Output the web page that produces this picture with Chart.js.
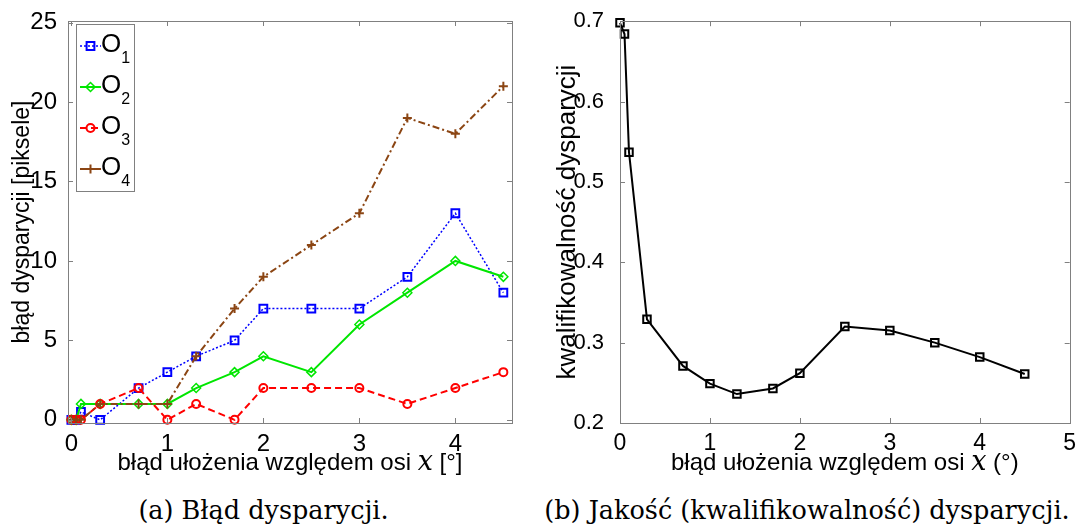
<!DOCTYPE html>
<html>
<head>
<meta charset="utf-8">
<script src="https://cdn.jsdelivr.net/npm/chart.js@4.4.1/dist/chart.umd.min.js"></script>
<style>
  body { margin: 0; background: #fff; width: 1077px; height: 524px; position: relative; overflow: hidden; }
  canvas { position: absolute; top: 0; }
  #chartA { left: 0; }
  #chartB { left: 540px; }
  .cap { position: absolute; top: 495px; font: 25.5px/30px "DejaVu Serif", serif; color: #000; text-align: center; white-space: nowrap; }
</style>
</head>
<body>
<canvas id="chartA" width="540" height="480"></canvas>
<canvas id="chartB" width="537" height="480"></canvas>
<div class="cap" style="left:0;width:527px">(a) Błąd dysparycji.</div>
<div class="cap" style="left:540px;width:534px">(b) Jakość (kwalifikowalność) dysparycji.</div>
<script>
// x positions (misalignment in degrees), shared by both plots
const xs = [0, 0.05, 0.1, 0.3, 0.7, 1, 1.3, 1.7, 2, 2.5, 3, 3.5, 4, 4.5];

// (a) disparity error [pixels]
const o1 = [0, 0, 0.5, 0, 2, 3, 4, 5, 7, 7, 7, 9, 13, 8];
const o2 = [0, 0, 1, 1, 1, 1, 2, 3, 4, 3, 6, 8, 10, 9];
const o3 = [0, 0, 0, 1, 2, 0, 1, 0, 2, 2, 2, 1, 2, 3];
const o4 = [0, 0, 0, 1, 1, 1, 4, 7, 9, 11, 13, 19, 18, 21];
const seriesNames = ['O1', 'O2', 'O3', 'O4'];

// (b) disparity quality
const quality = [0.698, 0.684, 0.537, 0.329, 0.271, 0.249, 0.236, 0.243, 0.262, 0.320, 0.315, 0.300, 0.282, 0.261];

const ticksAx = [0, 1, 2, 3, 4];
const ticksAy = [0, 5, 10, 15, 20, 25];
const ticksBx = [0, 1, 2, 3, 4, 5];
const ticksBy = [0.2, 0.3, 0.4, 0.5, 0.6, 0.7];

const sans = '"Liberation Sans", Arial, sans-serif';
const frameGray = '#808080';
const pts = ys => xs.map((x, i) => ({ x: x, y: ys[i] }));

// box, inner ticks, axis titles and (optionally) legend
const decor = {
  id: 'decor',
  afterDraw(chart, args, opts) {
    const { ctx, chartArea: a } = chart;
    const sx = chart.scales.x, sy = chart.scales.y;
    ctx.save();
    ctx.strokeStyle = frameGray;
    ctx.lineWidth = 1;
    ctx.beginPath();
    sx.ticks.forEach(t => {
      const p = Math.round(sx.getPixelForValue(t.value)) + 0.5;
      ctx.moveTo(p, a.bottom); ctx.lineTo(p, a.bottom - 5);
      ctx.moveTo(p, a.top); ctx.lineTo(p, a.top + 5);
    });
    sy.ticks.forEach(t => {
      const p = Math.round(sy.getPixelForValue(t.value)) + 0.5;
      ctx.moveTo(a.left, p); ctx.lineTo(a.left + 5, p);
      ctx.moveTo(a.right, p); ctx.lineTo(a.right - 5, p);
    });
    ctx.stroke();
    ctx.strokeRect(Math.round(a.left) + 0.5, Math.round(a.top) + 0.5, Math.round(a.width), Math.round(a.height));

    // x title made of several runs (sans text + italic serif x)
    ctx.fillStyle = '#000';
    ctx.textBaseline = 'alphabetic';
    ctx.textAlign = 'left';
    let total = 0;
    const runs = opts.xTitle.map(r => { ctx.font = r[1]; const w = ctx.measureText(r[0]).width; total += w; return [r[0], r[1], w]; });
    let x = (a.left + a.right) / 2 - total / 2;
    runs.forEach(r => { ctx.font = r[1]; ctx.fillText(r[0], x, opts.xTitleY); x += r[2]; });

    // y title
    ctx.save();
    ctx.translate(opts.yTitleX, (a.top + a.bottom) / 2);
    ctx.rotate(-Math.PI / 2);
    ctx.textAlign = 'center';
    ctx.font = opts.yTitleFont;
    ctx.fillText(opts.yTitle, 0, 0);
    ctx.restore();

    if (opts.legend) {
      const L = opts.legend;
      ctx.fillStyle = '#fff';
      ctx.fillRect(L.left, L.top, L.right - L.left, L.bottom - L.top);
      ctx.strokeStyle = frameGray;
      ctx.strokeRect(L.left + 0.5, L.top + 0.5, L.right - L.left, L.bottom - L.top);
      chart.data.datasets.forEach((ds, i) => {
        const yy = L.top + L.first + i * L.step;
        ctx.strokeStyle = ds.borderColor;
        ctx.lineWidth = ds.borderWidth;
        ctx.setLineDash(ds.borderDash || []);
        ctx.beginPath();
        ctx.moveTo(L.left + 4, yy); ctx.lineTo(L.left + 25, yy);
        ctx.stroke();
        ctx.setLineDash([]);
        ctx.lineWidth = ds.pointBorderWidth;
        ctx.fillStyle = 'rgba(0,0,0,0)';
        Chart.helpers.drawPoint(ctx, { pointStyle: ds.pointStyle, rotation: 0, radius: ds.pointRadius, borderWidth: ds.pointBorderWidth }, L.left + 14.5, yy);
        ctx.fillStyle = '#000';
        ctx.font = '26px ' + sans;
        ctx.fillText(ds.label[0], L.left + 25, yy + 6);
        const w = ctx.measureText(ds.label[0]).width;
        ctx.font = '16px ' + sans;
        ctx.fillText(ds.label.slice(1), L.left + 25 + w, yy + 17);
      });
    }
    ctx.restore();
  }
};

function axis(min, max, ticks, fmt, fontSize, pad, size, isX) {
  return {
    type: 'linear',
    min: min,
    max: max,
    grid: { display: false },
    border: { display: false },
    afterBuildTicks: s => { s.ticks = ticks.map(v => ({ value: v })); },
    afterFit: s => { if (isX) s.height = size; else s.width = size; },
    ticks: { color: '#000', padding: pad, font: { family: sans, size: fontSize }, callback: fmt }
  };
}

const series = [
  { data: o1, color: '#0000ff', width: 1.5, dash: [2, 2], style: 'rect', r: 5.5, bw: 2 },
  { data: o2, color: '#00e600', width: 2, dash: [], style: 'rectRot', r: 4.5, bw: 1.5 },
  { data: o3, color: '#ff0000', width: 2, dash: [7, 4], style: 'circle', r: 4, bw: 2 },
  { data: o4, color: '#8b4513', width: 2, dash: [7, 3, 2, 3], style: 'cross', r: 4.5, bw: 2 }
];

new Chart(document.getElementById('chartA'), {
  type: 'scatter',
  data: {
    datasets: series.map((s, i) => ({
      label: seriesNames[i],
      data: pts(s.data),
      showLine: true,
      order: series.length - i,
      borderColor: s.color,
      borderWidth: s.width,
      borderDash: s.dash,
      pointStyle: s.style,
      pointRadius: s.r,
      pointBorderWidth: s.bw,
      pointBorderColor: s.color,
      pointBackgroundColor: 'rgba(0,0,0,0)',
      clip: false
    }))
  },
  options: {
    responsive: false,
    animation: false,
    layout: { padding: { top: 21, right: 28, left: 0, bottom: 0 } },
    scales: {
      x: axis(-0.035, 4.59, ticksAx, v => String(v), 24, -1, 57, true),
      y: axis(-0.2, 25.1, ticksAy, v => String(v), 24, 3, 68, false)
    },
    plugins: {
      legend: { display: false },
      tooltip: { enabled: false },
      decor: {
        xTitle: [['błąd ułożenia względem osi ', '24px ' + sans], ['x', 'italic 27px "DejaVu Serif", serif'], [' [°]', '24px ' + sans]],
        xTitleY: 470,
        yTitle: 'błąd dysparycji [piksele]',
        yTitleFont: '23px ' + sans,
        yTitleX: 29,
        legend: { left: 76, top: 24, right: 134, bottom: 191, first: 22, step: 41 }
      }
    }
  },
  plugins: [decor]
});

new Chart(document.getElementById('chartB'), {
  type: 'scatter',
  data: {
    datasets: [{
      label: 'kwalifikowalność',
      data: pts(quality),
      showLine: true,
      borderColor: '#000',
      borderWidth: 2,
      pointStyle: 'rect',
      pointRadius: 5.3,
      pointBorderWidth: 2,
      pointBorderColor: '#000',
      pointBackgroundColor: 'rgba(0,0,0,0)',
      clip: false
    }]
  },
  options: {
    responsive: false,
    animation: false,
    layout: { padding: { top: 21, right: 7, left: 0, bottom: 0 } },
    scales: {
      x: axis(0, 5, ticksBx, v => String(v), 23, -1, 57, true),
      y: axis(0.2, 0.7, ticksBy, v => v.toFixed(1), 22, 8, 80, false)
    },
    plugins: {
      legend: { display: false },
      tooltip: { enabled: false },
      decor: {
        xTitle: [['błąd ułożenia względem osi ', '24px ' + sans], ['x', 'italic 27px "DejaVu Serif", serif'], [' (°)', '24px ' + sans]],
        xTitleY: 470,
        yTitle: 'kwalifikowalność dysparycji',
        yTitleFont: '26px ' + sans,
        yTitleX: 35
      }
    }
  },
  plugins: [decor]
});
</script>
</body>
</html>
